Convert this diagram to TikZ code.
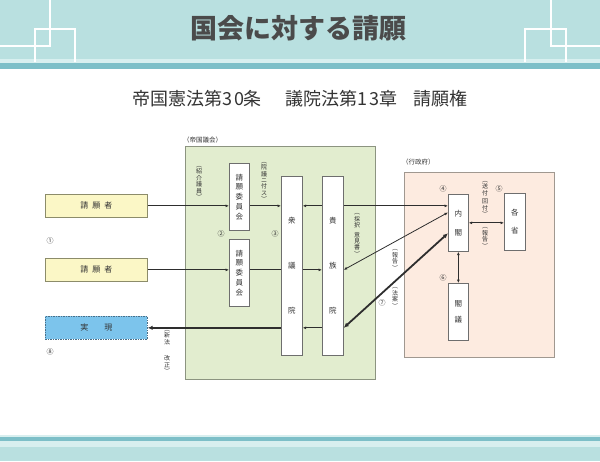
\documentclass[tikz,border=0pt]{standalone}
\usepackage{fontspec}
\setmainfont{Noto Sans CJK JP}
\usetikzlibrary{arrows.meta,calc}
\definecolor{bandc}{HTML}{B9E0E0}
\definecolor{darkc}{HTML}{7DBFC8}
\definecolor{palec}{HTML}{D8EFEF}
\definecolor{greenc}{HTML}{E2EDCF}
\definecolor{greenb}{HTML}{8C9480}
\definecolor{pinkc}{HTML}{FDEBE0}
\definecolor{pinkb}{HTML}{A09890}
\definecolor{yellowc}{HTML}{FBF7C6}
\definecolor{yellowb}{HTML}{8C8C6A}
\definecolor{bluec}{HTML}{7CC4EC}
\definecolor{blueb}{HTML}{4A6F88}
\definecolor{linec}{HTML}{2E2E2E}
\definecolor{txtc}{HTML}{333333}
\definecolor{boxc}{HTML}{6E6E6E}
\definecolor{titlec}{HTML}{4B4B4B}
\pgfdeclarelayer{bg}
\pgfdeclarelayer{lines}
\pgfsetlayers{bg,lines,main}
\begin{document}
\begin{tikzpicture}[x=1pt,y=-1pt,
  ln/.style={line width=0.8pt, draw=linec},
  tk/.style={line width=1.8pt, draw=linec},
  tip/.style={-{Latex[length=3.5pt,width=3pt]}},
  dtip/.style={{Latex[length=3.5pt,width=3pt]}-{Latex[length=3.5pt,width=3pt]}},
  tktip/.style={{Latex[length=5pt,width=4.5pt]}-{Latex[length=5pt,width=4.5pt]}},
  wbox/.style={draw=boxc, line width=0.7pt, fill=white, inner sep=0pt, anchor=north west, align=center, text=txtc},
  region/.style={line width=0.8pt, inner sep=0pt, anchor=north west},
  vlab/.style={font=\fontsize{6}{6.4}\selectfont, align=center, inner sep=0pt, text=txtc},
  num/.style={font=\fontsize{7}{7}\selectfont, inner sep=0pt, text=txtc},
  hdl/.style={draw=white, line width=1.2pt},
]
\useasboundingbox (0,0) rectangle (600,461);
% header
\fill[bandc] (0,0) rectangle (600,60);
\fill[palec] (0,59) rectangle (600,63);
\fill[darkc] (0,63) rectangle (600,69);
\draw[hdl] (0,46) -- (50,46) -- (50,0);
\draw[hdl] (35,62) -- (35,29) -- (75,29) -- (75,62);
\draw[hdl] (600,46) -- (551,46) -- (551,0);
\draw[hdl] (525,62) -- (525,29) -- (566,29) -- (566,62);
\node[font=\fontsize{27}{27}\selectfont\bfseries, text=titlec] (title) at (298,28) {国会に対する請願};
% footer
\fill[palec] (0,435) rectangle (600,437);
\fill[darkc] (0,437) rectangle (600,441);
\fill[palec] (0,441) rectangle (600,447);
\fill[bandc] (0,447) rectangle (600,461);
% subtitle
\node[font=\fontsize{18}{18}\selectfont, text=txtc] (sub) at (300,99) {帝国憲法第3\hspace{1.5pt}0条\hspace{24pt}議院法第1\hspace{1.5pt}3章\hspace{16pt}請願権};
% regions
\begin{pgfonlayer}{bg}
\node[region, draw=greenb, fill=greenc, minimum width=190pt, minimum height=233pt] (diet) at (185,146) {};
\node[region, draw=pinkb, fill=pinkc, minimum width=150pt, minimum height=185pt] (gov) at (404,172) {};
\end{pgfonlayer}
\node[anchor=west, font=\fontsize{6.5}{6.5}\selectfont, text=txtc, inner sep=0pt] (dietl) at (183,140) {（帝国議会）};
\node[anchor=west, font=\fontsize{6.5}{6.5}\selectfont, text=txtc, inner sep=0pt] (govl) at (402,162) {（行政府）};
% left boxes
\node[wbox, draw=yellowb, fill=yellowc, minimum width=102pt, minimum height=23pt, font=\fontsize{8}{8}\selectfont] (r1) at (45,194) {請\hspace{4pt}願\hspace{4pt}者};
\node[wbox, draw=yellowb, fill=yellowc, minimum width=102pt, minimum height=23pt, font=\fontsize{8}{8}\selectfont] (r2) at (45,258) {請\hspace{4pt}願\hspace{4pt}者};
\node[wbox, draw=blueb, fill=bluec, dash pattern=on 1.5pt off 1pt, minimum width=102pt, minimum height=23pt, font=\fontsize{8}{8}\selectfont] (ji) at (45,316) {実\hspace{16pt}現};
\node[num] (n1) at (50,241) {①};
\node[num] (n8) at (50,352) {⑧};
% diet boxes
\node[wbox, minimum width=20pt, minimum height=67pt, font=\fontsize{7.5}{9.8}\selectfont] (c1) at (229,163) {請\\願\\委\\員\\会};
\node[wbox, minimum width=20pt, minimum height=67pt, font=\fontsize{7.5}{9.8}\selectfont] (c2) at (229,239) {請\\願\\委\\員\\会};
\node[wbox, minimum width=21pt, minimum height=179pt, font=\fontsize{7.5}{45}\selectfont] (shu) at (281,176) {衆\\議\\院};
\node[wbox, minimum width=21pt, minimum height=179pt, font=\fontsize{7.5}{45}\selectfont] (ki) at (322,176) {貴\\族\\院};
\node[num] (n2) at (221,234) {②};
\node[num] (n3) at (275,234) {③};
\node[num] (n7) at (382,303) {⑦};
% government boxes
\node[wbox, minimum width=20pt, minimum height=57pt, font=\fontsize{7.5}{19}\selectfont] (nai) at (448,194) {内\\閣};
\node[wbox, minimum width=21pt, minimum height=57pt, font=\fontsize{7.5}{18}\selectfont] (kaku) at (504,193) {各\\省};
\node[wbox, minimum width=20pt, minimum height=57pt, font=\fontsize{7.5}{16}\selectfont] (kakugi) at (448,283) {閣\\議};
\node[num] (n4) at (443,189) {④};
\node[num] (n5) at (499,189) {⑤};
\node[num] (n6) at (443,278) {⑥};
% vertical labels
\node[vlab] (l1) at (199,183) {︵\\紹\\介\\議\\員\\︶};
\node[vlab] (l2) at (264,182) {︵\\院\\議\\ニ\\付\\ス\\︶};
\node[vlab] (l3) at (357,235) {︵\\採\\択\\[3pt]意\\見\\書\\︶};
\node[vlab] (l4) at (395,260) {︵\\報\\告\\︶};
\node[vlab] (l5) at (395,298) {︵\\法\\案\\︶};
\node[vlab] (l6) at (167,352) {︵\\新\\法\\[10pt]改\\正\\︶};
\node[vlab] (l7) at (485,199) {︵\\送\\付\\[2pt]回\\付\\︶};
\node[vlab] (l8) at (485,238) {︵\\報\\告\\︶};
% connectors
\coordinate (na1) at ($(nai.north west)!0.32!(nai.south west)$);
\coordinate (na2) at ($(nai.north west)!0.68!(nai.south west)$);
\begin{pgfonlayer}{lines}
\draw[ln,tip] (r1.east) -- (c1.west |- r1.east);
\draw[ln,tip] (c1.east |- r1.east) -- (shu.west |- r1.east);
\draw[ln,dtip] (shu.east |- r1.east) -- (nai.west |- r1.east);
\draw[ln,tip] (r2.east) -- (c2.west |- r2.east);
\draw[ln,tip] (c2.east |- r2.east) -- (ki.west |- r2.east);
\draw[ln,dtip] (na1) -- (ki.east |- r2.east);
\draw[tk,tktip] (na2) -- (ki.east |- ji.east);
\draw[line width=1.1pt, draw=linec, tip] (ki.west |- ji.east) -- (shu.east |- ji.east);
\draw[tk,-{Latex[length=5pt,width=4.5pt]}] (shu.west |- ji.east) -- (ji.east);
\draw[ln,dtip] (nai.east) -- (nai.east -| kaku.west);
\draw[ln,dtip] (nai.south) -- (kakugi.north);
\end{pgfonlayer}
\end{tikzpicture}
\end{document}
